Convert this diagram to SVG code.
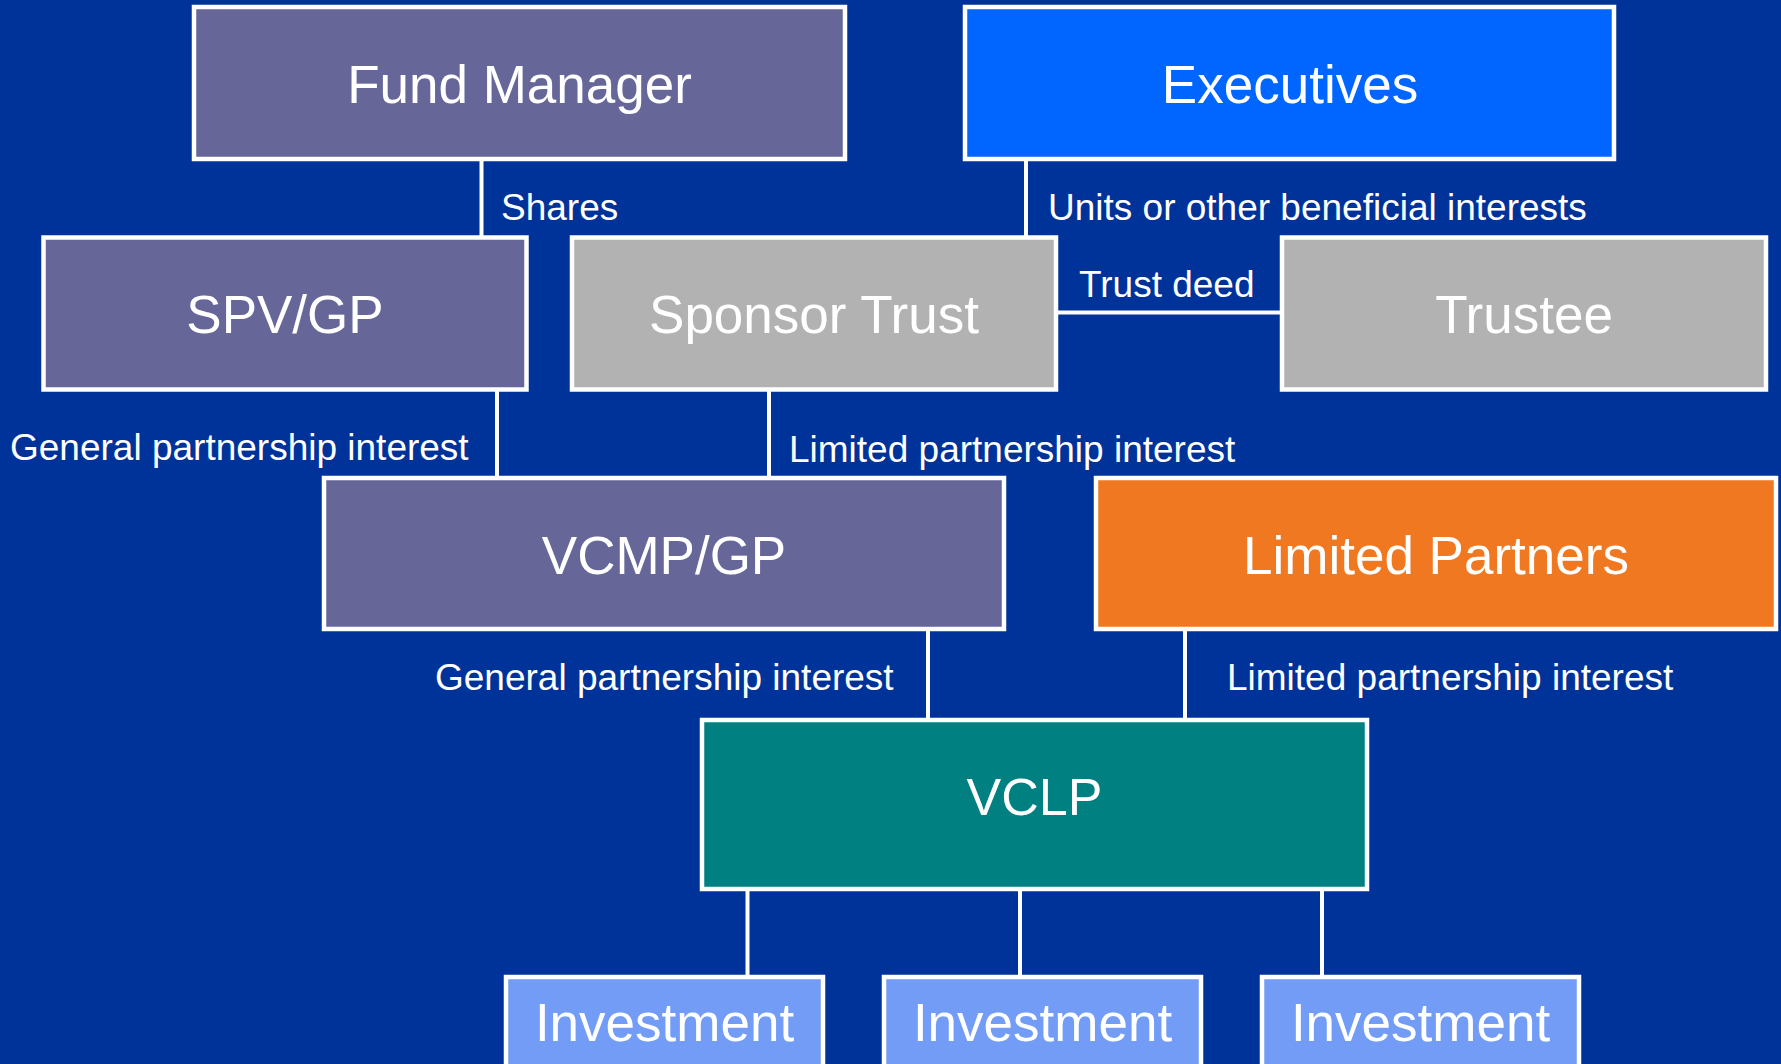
<svg xmlns="http://www.w3.org/2000/svg" width="1781" height="1064" viewBox="0 0 1781 1064">
<style>
.box{stroke:#FFFFFF;stroke-width:4.5}
.nl{font-family:"Liberation Sans",Arial,sans-serif;font-size:53px;fill:#FFFFFF;text-anchor:middle}
.el{font-family:"Liberation Sans",Arial,sans-serif;font-size:37px;fill:#FFFFFF}
.c{stroke:#FFFFFF;stroke-width:4;fill:none}
</style>
<rect x="0" y="0" width="1781" height="1064" fill="#003399"/>
<g id="connectors">
<line class="c" x1="481.5" y1="160" x2="481.5" y2="237"/>
<line class="c" x1="1026" y1="160" x2="1026" y2="237"/>
<line class="c" x1="1057" y1="312.5" x2="1282" y2="312.5"/>
<line class="c" x1="497" y1="390" x2="497" y2="478"/>
<line class="c" x1="769" y1="390" x2="769" y2="478"/>
<line class="c" x1="928" y1="630" x2="928" y2="720"/>
<line class="c" x1="1185" y1="630" x2="1185" y2="720"/>
<line class="c" x1="747.5" y1="886" x2="747.5" y2="977"/>
<line class="c" x1="1020" y1="886" x2="1020" y2="977"/>
<line class="c" x1="1322" y1="886" x2="1322" y2="977"/>
<text class="el" x="501" y="220">Shares</text>
<text class="el" x="1048" y="220">Units or other beneficial interests</text>
<text class="el" x="1079" y="297">Trust deed</text>
<text class="el" x="10" y="460">General partnership interest</text>
<text class="el" x="789" y="462">Limited partnership interest</text>
<text class="el" x="435" y="690">General partnership interest</text>
<text class="el" x="1227" y="690">Limited partnership interest</text>
</g>
<g id="fund-manager">
<rect class="box" x="194" y="7" width="651" height="152" fill="#666699"/>
<text class="nl" x="519.5" y="103">Fund Manager</text>
</g>
<g id="executives">
<rect class="box" x="965" y="7" width="649" height="152" fill="#0066FF"/>
<text class="nl" x="1290" y="103">Executives</text>
</g>
<g id="spv-gp">
<rect class="box" x="43.5" y="237.5" width="483" height="152" fill="#666699"/>
<text class="nl" x="285" y="333">SPV/GP</text>
</g>
<g id="sponsor-trust">
<rect class="box" x="572" y="237.5" width="484" height="152" fill="#B2B2B2"/>
<text class="nl" x="814" y="333">Sponsor Trust</text>
</g>
<g id="trustee">
<rect class="box" x="1282" y="237.5" width="484" height="152" fill="#B2B2B2"/>
<text class="nl" x="1524" y="333">Trustee</text>
</g>
<g id="vcmp-gp">
<rect class="box" x="324" y="478" width="680" height="151" fill="#666699"/>
<text class="nl" x="664" y="574">VCMP/GP</text>
</g>
<g id="limited-partners">
<rect class="box" x="1096" y="478" width="680" height="151" fill="#F07820"/>
<text class="nl" x="1436" y="574">Limited Partners</text>
</g>
<g id="vclp">
<rect class="box" x="702" y="720" width="665" height="169" fill="#008080"/>
<text class="nl" x="1034.5" y="815" style="font-size:52px">VCLP</text>
</g>
<g id="investment-1">
<rect class="box" x="506" y="977" width="317" height="120" fill="#729CF5"/>
<text class="nl" x="664.5" y="1041">Investment</text>
</g>
<g id="investment-2">
<rect class="box" x="884" y="977" width="317" height="120" fill="#729CF5"/>
<text class="nl" x="1042.5" y="1041">Investment</text>
</g>
<g id="investment-3">
<rect class="box" x="1262" y="977" width="317" height="120" fill="#729CF5"/>
<text class="nl" x="1420.5" y="1041">Investment</text>
</g>
</svg>
